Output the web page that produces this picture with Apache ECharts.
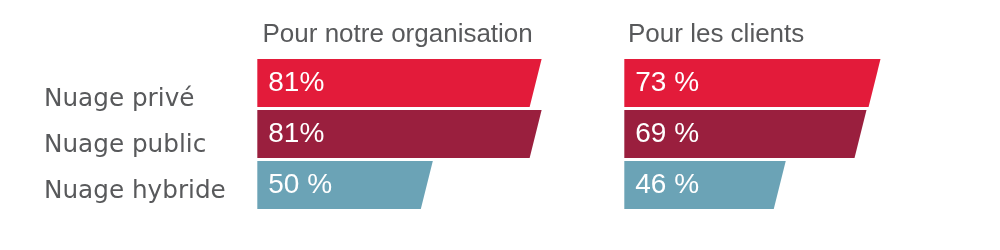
<!DOCTYPE html>
<html>
<head>
<meta charset="utf-8">
<script src="https://cdn.jsdelivr.net/npm/echarts@6/dist/echarts.min.js"></script>
<style>html,body{margin:0;padding:0;background:#fff}#c{width:1000px;height:250px}</style>
</head>
<body>
<div id="c"></div>
<script>
var categories = ['Nuage privé', 'Nuage public', 'Nuage hybride'];
var panelTitles = ['Pour notre organisation', 'Pour les clients'];
var orgValues = [81, 81, 50];
var clientValues = [73, 69, 46];
var orgLabels = ['81%', '81%', '50 %'];
var clientLabels = ['73 %', '69 %', '46 %'];
var barColors = ['#E31B3A', '#9A1F3E', '#6BA3B6'];

function makeRender(labels) {
  return function (params, api) {
    var idx = api.value(1);
    var val = api.value(0);
    var p0 = api.coord([0, idx]);
    var p1 = api.coord([val, idx]);
    var band = api.size([0, 1])[1];
    var h = band * 0.94;
    var s = h * 0.25;
    var top = p0[1] - h / 2, bot = p0[1] + h / 2;
    return {
      type: 'group',
      children: [
        { type: 'polygon', shape: { points: [[p0[0], top], [p1[0], top], [p1[0] - s, bot], [p0[0], bot]] }, style: { fill: api.visual('color') } },
        { type: 'text', style: { text: labels[idx], x: p0[0] + 11, y: p0[1], verticalAlign: 'middle', align: 'left', fill: '#ffffff', font: '28px "Liberation Sans"' } }
      ]
    };
  };
}
function toData(vals) {
  return vals.map(function (v, i) { return { value: [v, i], itemStyle: { color: barColors[i] } }; });
}

var chart = echarts.init(document.getElementById('c'), null, { renderer: 'canvas' });
chart.setOption({
  animation: false,
  title: [
    { text: panelTitles[0], left: 257.5, top: 17, textStyle: { fontFamily: 'Liberation Sans', fontSize: 26, fontWeight: 'normal', color: '#58595B' } },
    { text: panelTitles[1], left: 623, top: 17, textStyle: { fontFamily: 'Liberation Sans', fontSize: 26, fontWeight: 'normal', color: '#58595B' } }
  ],
  grid: [
    { left: 257.3, width: 351, top: 57.5, height: 153 },
    { left: 624.3, width: 351, top: 57.5, height: 153 },
    { left: 44, width: 1, top: 76.5, height: 138 }
  ],
  xAxis: [
    { gridIndex: 0, type: 'value', min: 0, max: 100, show: false },
    { gridIndex: 1, type: 'value', min: 0, max: 100, show: false },
    { gridIndex: 2, type: 'value', min: 0, max: 100, show: false }
  ],
  yAxis: [
    { gridIndex: 0, type: 'category', data: categories, inverse: true, show: false },
    { gridIndex: 1, type: 'category', data: categories, inverse: true, show: false },
    { gridIndex: 2, type: 'category', data: categories, inverse: true,
      axisLine: { show: false }, axisTick: { show: false }, splitLine: { show: false },
      axisLabel: { align: 'left', margin: 0, fontFamily: 'DejaVu Sans', fontSize: 24.7, color: '#58595B' } }
  ],
  series: [
    { type: 'custom', xAxisIndex: 0, yAxisIndex: 0, renderItem: makeRender(orgLabels), encode: { x: 0, y: 1 }, data: toData(orgValues) },
    { type: 'custom', xAxisIndex: 1, yAxisIndex: 1, renderItem: makeRender(clientLabels), encode: { x: 0, y: 1 }, data: toData(clientValues) }
  ]
});
</script>
</body>
</html>
